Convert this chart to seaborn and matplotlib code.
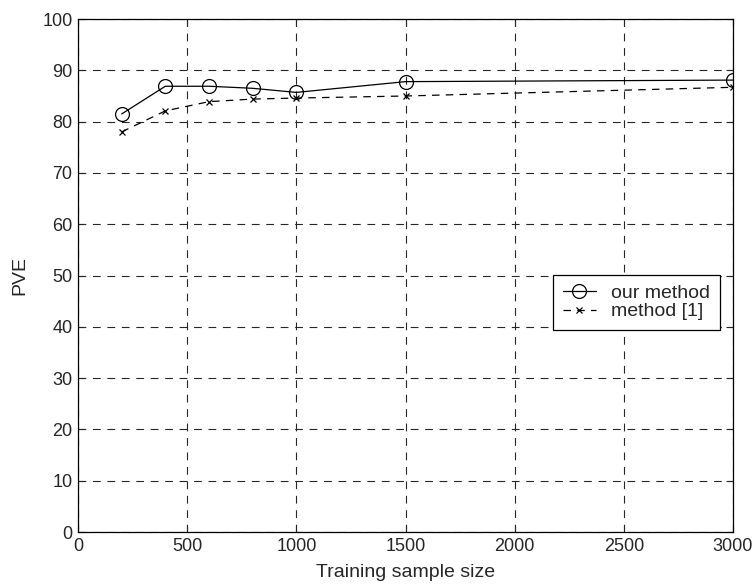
import pandas as pd
import seaborn as sns
import matplotlib.pyplot as plt

sample_size = [200, 400, 600, 800, 1000, 1500, 3000]
our_method = [81.5, 86.9, 86.9, 86.5, 85.7, 87.8, 88.1]
method_1 = [78.0, 82.1, 83.9, 84.4, 84.6, 85.0, 86.7]


def main():
    sns.set_style("ticks")
    plt.rcParams['font.family'] = ['Liberation Sans', 'DejaVu Sans']

    df = pd.DataFrame({'size': sample_size, 'ours': our_method, 'm1': method_1})

    fig = plt.figure(figsize=(7.55, 5.88), dpi=100)
    ax = fig.add_axes([0.1033, 0.0952, 0.8676, 0.8724])

    sns.lineplot(data=df, x='size', y='ours', ax=ax, color='black', linewidth=0.9,
                 marker='o', markersize=10, markerfacecolor='none',
                 markeredgecolor='black', markeredgewidth=0.9, label='our method')
    sns.lineplot(data=df, x='size', y='m1', ax=ax, color='black', linewidth=0.9,
                 linestyle=(0, (6, 5)), marker='x', markersize=5,
                 markeredgecolor='black', markeredgewidth=0.9, label='method [1]')

    ax.set_xlim(0, 3000)
    ax.set_ylim(0, 100)
    ax.set_xticks(range(0, 3001, 500))
    ax.set_yticks(range(0, 101, 10))
    ax.grid(True, color='0.15', linestyle=(0, (7, 6)), linewidth=0.8)
    ax.tick_params(direction='in', length=5, labelsize=13, width=0.8, pad=4,
                   top=True, right=True, labeltop=False, labelright=False)
    for s in ax.spines.values():
        s.set_linewidth(0.9)
        s.set_color('black')

    ax.set_xlabel("Training sample size", fontsize=14, labelpad=7)
    ax.set_ylabel("PVE", fontsize=14, labelpad=10)

    leg = ax.legend(loc='upper right', bbox_to_anchor=(0.98, 0.502), fontsize=14,
                    handlelength=1.7, handletextpad=0.8, borderpad=0.5,
                    labelspacing=0.05, borderaxespad=0, fancybox=False,
                    framealpha=1, edgecolor='black')
    leg.get_frame().set_linewidth(0.9)

    fig.savefig("out.png", dpi=100)


if __name__ == "__main__":
    main()
